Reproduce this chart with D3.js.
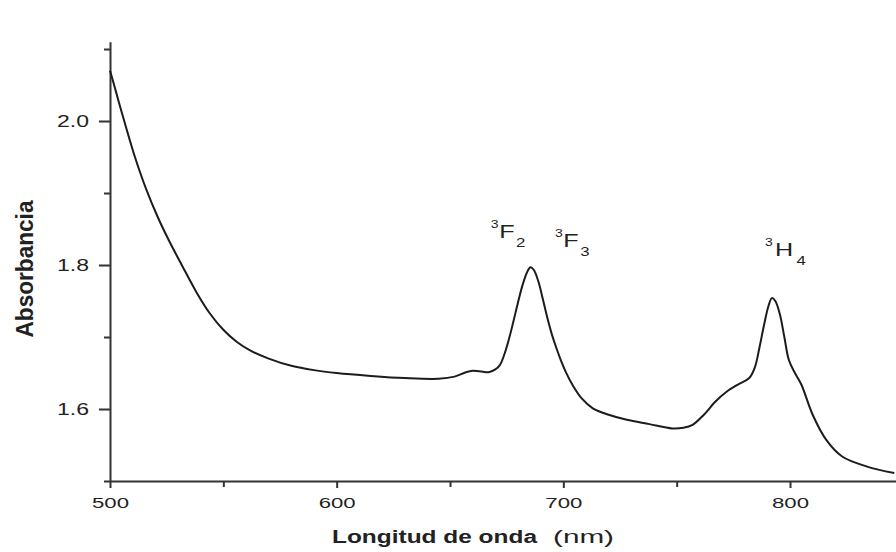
<!DOCTYPE html>
<meta charset="utf-8">
<script src="https://d3js.org/d3.v7.min.js"></script>
<style>
  body { margin: 0; background: #fff; }
  text { font-family: 'Liberation Sans', Arial, sans-serif; fill: #222; }
</style>
<body>
<div id="my_dataviz"></div>
<script>

// wavelength (nm) and absorbance
var wavelength = [500, 502, 504, 507, 511, 516, 521, 526, 532, 538, 544, 550, 556, 562, 570,
  580, 590, 600, 615, 630, 645, 652, 657, 660, 664, 667, 670, 672, 674, 676, 678, 680, 682,
  684, 685.5, 687, 689, 691, 693, 695, 697, 699, 701, 704.5, 708, 713, 720, 728, 738, 748,
  753, 757, 762, 767, 772, 777, 782, 784.5, 786.5, 788.5, 790.5, 792, 793.5, 795.5, 797.5,
  799.5, 802, 805, 810, 816, 823, 834, 846];
var absorbance = [2.070, 2.048, 2.025, 1.992, 1.950, 1.905, 1.867, 1.834, 1.798, 1.763, 1.733,
  1.710, 1.693, 1.681, 1.670, 1.660, 1.654, 1.650, 1.646, 1.643, 1.642, 1.645, 1.651, 1.653,
  1.652, 1.651, 1.655, 1.661, 1.676, 1.697, 1.722, 1.748, 1.772, 1.790, 1.797, 1.793, 1.777,
  1.752, 1.726, 1.703, 1.684, 1.667, 1.652, 1.631, 1.615, 1.601, 1.592, 1.585, 1.579, 1.573,
  1.574, 1.578, 1.592, 1.610, 1.624, 1.634, 1.643, 1.658, 1.685, 1.716, 1.743, 1.754, 1.750,
  1.732, 1.700, 1.668, 1.651, 1.634, 1.592, 1.557, 1.534, 1.520, 1.511];

var xMajor = [500, 600, 700, 800];
var xMinor = [550, 650, 750, 850];
var yMajor = [1.6, 1.8, 2.0];
var yMinor = [1.5, 1.7, 1.9, 2.1];

// band labels: term, subscript, position (nm, absorbance of baseline)
var bandTerm = ["F", "F", "H"];
var bandSub = ["2", "3", "4"];
var bandNm = [668, 696.3, 789];
var bandAbs = [1.8375, 1.825, 1.8125];

var width = 896, height = 552;

var svg = d3.select("#my_dataviz")
  .append("svg")
    .attr("width", width)
    .attr("height", height);

var x = d3.scaleLinear()
  .domain([500, 850])
  .range([110, 110 + 350 * 2.2667]);

var y = d3.scaleLinear()
  .domain([1.5, 2.11])
  .range([481, 481 - 0.61 * 720]);

// minor ticks first
svg.append("g")
  .attr("transform", "translate(0,481)")
  .call(d3.axisBottom(x).tickValues(xMinor).tickSize(6).tickFormat(""))
  .call(function(g) { g.select(".domain").remove(); });
svg.append("g")
  .attr("transform", "translate(110,0)")
  .call(d3.axisLeft(y).tickValues(yMinor).tickSize(6).tickFormat(""))
  .call(function(g) { g.select(".domain").remove(); });

// X axis
var xAxis = svg.append("g")
  .attr("transform", "translate(0,481)")
  .call(d3.axisBottom(x).tickValues(xMajor).tickSize(7).tickSizeOuter(0).tickPadding(9));
xAxis.selectAll("text")
  .style("font-size", "15px")
  .attr("textLength", 37)
  .attr("lengthAdjust", "spacingAndGlyphs");

// Y axis
var yAxis = svg.append("g")
  .attr("transform", "translate(110,0)")
  .call(d3.axisLeft(y).tickValues(yMajor).tickSize(11).tickSizeOuter(0).tickPadding(10)
    .tickFormat(d3.format(".1f")));
yAxis.selectAll("text")
  .style("font-size", "16px")
  .attr("textLength", 32)
  .attr("lengthAdjust", "spacingAndGlyphs");

svg.selectAll(".domain, .tick line")
  .attr("stroke", "#333")
  .attr("stroke-width", 2);

// axis titles
svg.append("text")
  .attr("x", 332)
  .attr("y", 543)
  .attr("textLength", 205)
  .attr("lengthAdjust", "spacingAndGlyphs")
  .style("font-size", "18px")
  .style("font-weight", "bold")
  .text("Longitud de onda");
svg.append("text")
  .attr("x", 553)
  .attr("y", 543)
  .attr("textLength", 61)
  .attr("lengthAdjust", "spacingAndGlyphs")
  .style("font-size", "18px")
  .text("(nm)");

svg.append("text")
  .attr("transform", "translate(33,269) rotate(-90)")
  .attr("text-anchor", "middle")
  .attr("textLength", 137)
  .attr("lengthAdjust", "spacingAndGlyphs")
  .style("font-size", "23px")
  .style("font-weight", "bold")
  .text("Absorbancia");

// spectrum
var pts = wavelength.map(function(d, i) { return [d, absorbance[i]]; });
svg.append("path")
  .datum(pts)
  .attr("fill", "none")
  .attr("stroke", "#1c1c1c")
  .attr("stroke-width", 2)
  .attr("d", d3.line()
    .x(function(d) { return x(d[0]); })
    .y(function(d) { return y(d[1]); })
    .curve(d3.curveCatmullRom.alpha(0.5)));

// band labels
bandTerm.forEach(function(t, i) {
  var g = svg.append("g")
    .attr("transform", "translate(" + x(bandNm[i]) + "," + y(bandAbs[i]) + ") scale(1.4,1)");
  g.append("text").attr("x", 0).attr("y", -10).style("font-size", "10px").text("3");
  g.append("text").attr("x", t == "H" ? 7 : 6).attr("y", 0).style("font-size", "18px").text(t);
  g.append("text").attr("x", t == "H" ? 22.5 : 18).attr("y", 9).style("font-size", "12px").text(bandSub[i]);
});

</script>
</body>
